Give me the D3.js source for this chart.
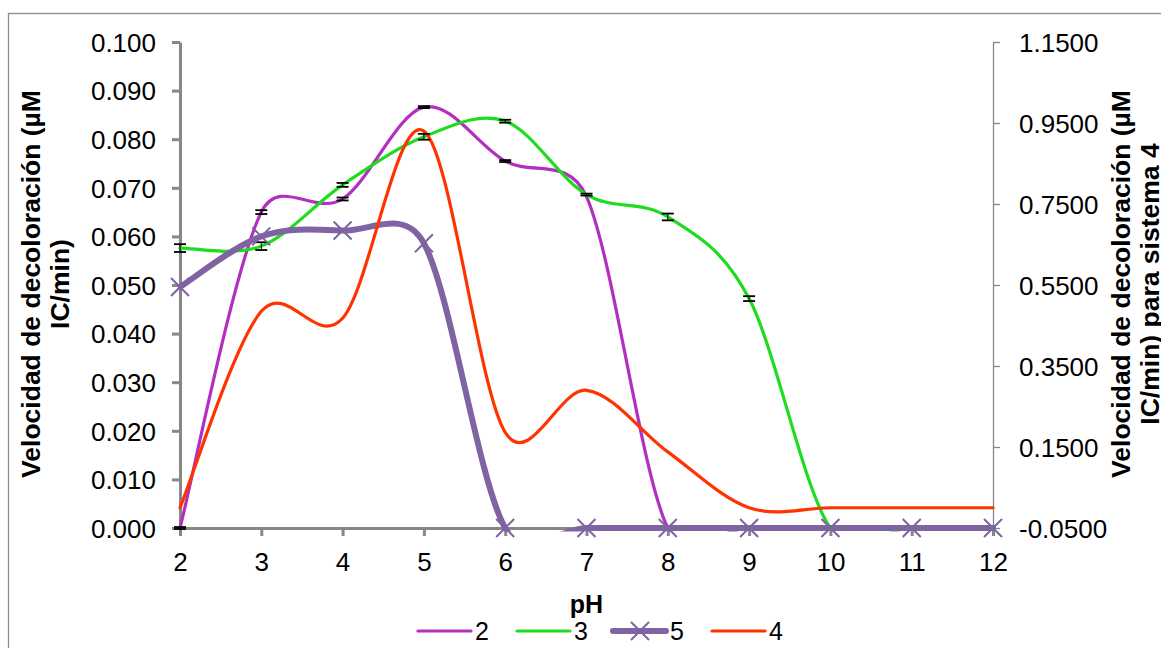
<!DOCTYPE html>
<html>
<head>
<meta charset="utf-8">
<script src="https://cdn.jsdelivr.net/npm/d3@7"></script>
<style>
  html, body { margin: 0; padding: 0; background: #ffffff; }
  svg { display: block; font-family: "Liberation Sans", Arial, sans-serif; }
</style>
</head>
<body>
<svg id="chart" width="1161" height="648"></svg>
<script>
// ---------- data ----------
const pH = [2, 3, 4, 5, 6, 7, 8, 9, 10, 11, 12];
const xTicks = [2, 3, 4, 5, 6, 7, 8, 9, 10, 11, 12];
const leftTicks = [0, 0.01, 0.02, 0.03, 0.04, 0.05, 0.06, 0.07, 0.08, 0.09, 0.10];
const rightTicks = [-0.05, 0.15, 0.35, 0.55, 0.75, 0.95, 1.15];

const serie2 = [0.0000, 0.0650, 0.0677, 0.0866, 0.0755, 0.0682, 0.0000, 0.0000, 0.0000, 0.0000, 0.0000];
const err2   = [0.0002, 0.0004, 0.0003, 0.0002, 0.0002, 0, 0, 0, 0, 0, 0];
const serie3 = [0.0576, 0.0580, 0.0706, 0.0805, 0.0837, 0.0686, 0.0640, 0.0472, 0.0000, 0.0000, 0.0000];
const err3   = [0.0008, 0.0008, 0.0004, 0.0006, 0.0003, 0.0002, 0.0007, 0.0005, 0, 0, 0];
const serie5 = [0.0496, 0.0600, 0.0612, 0.0586, 0.0000, 0.0000, 0.0000, 0.0000, 0.0000, 0.0000, 0.0000];
const serie4 = [0.000, 0.485, 0.468, 0.930, 0.186, 0.290, 0.138, 0.000, 0.000, 0.000, 0.000]; // secondary axis

const legendLabels = ["2", "3", "5", "4"];
const xTitle = "pH";
const leftTitle = ["Velocidad de decoloración (µM", "IC/min)"];
const rightTitle = ["Velocidad de decoloración (µM", "IC/min) para sistema 4"];

// ---------- layout ----------
const C = { m: "#B22FC0", g: "#1EDC1E", p: "#7F63A2", r: "#FF3300", axis: "#878787" };
const L = 180, R = 993, T = 42, B = 528;
const svg = d3.select("#chart");

const x = d3.scaleLinear().domain([2, 12]).range([L, R]);
const yL = d3.scaleLinear().domain([0, 0.1]).range([B, T]);
const yR = d3.scaleLinear().domain([-0.05, 1.15]).range([B, T]);

// outer border
svg.append("rect").attr("x", 8.5).attr("y", 13.5).attr("width", 1300).attr("height", 800)
  .attr("fill", "none").attr("stroke", "#8c8c8c").attr("stroke-width", 1.3);

const tickFont = 26;

// left axis
const gL = svg.append("g").attr("transform", `translate(${L},0)`)
  .call(d3.axisLeft(yL).tickValues(leftTicks).tickFormat(d3.format(".3f"))
    .tickSize(8).tickSizeOuter(0).tickPadding(16));
gL.select(".domain").attr("stroke", C.axis).attr("stroke-width", 3);
gL.selectAll(".tick line").attr("stroke", C.axis).attr("stroke-width", 3);
gL.selectAll(".tick text").attr("font-size", tickFont).attr("fill", "#000").attr("dy", "0.36em")
  .attr("font-family", "Liberation Sans, Arial, sans-serif");

// right axis
const gR = svg.append("g").attr("transform", `translate(${R},0)`)
  .call(d3.axisRight(yR).tickValues(rightTicks).tickFormat(d => d3.format(".4f")(d).replace("−", "-"))
    .tickSize(7).tickSizeOuter(0).tickPadding(19));
gR.select(".domain").attr("stroke", C.axis).attr("stroke-width", 1.3);
gR.selectAll(".tick line").attr("stroke", C.axis).attr("stroke-width", 1.3);
gR.selectAll(".tick text").attr("font-size", tickFont).attr("fill", "#000").attr("dy", "0.36em")
  .attr("font-family", "Liberation Sans, Arial, sans-serif");

// bottom axis
const gB = svg.append("g").attr("transform", `translate(0,${B})`)
  .call(d3.axisBottom(x).tickValues(xTicks).tickFormat(d3.format("d"))
    .tickSize(8).tickSizeOuter(0).tickPadding(17));
gB.select(".domain").attr("stroke", C.axis).attr("stroke-width", 3);
gB.selectAll(".tick line").attr("stroke", C.axis).attr("stroke-width", 3);
gB.selectAll(".tick text").attr("font-size", tickFont).attr("fill", "#000")
  .attr("font-family", "Liberation Sans, Arial, sans-serif");

// clip for plot area
svg.append("clipPath").attr("id", "plotclip").append("rect")
  .attr("x", L - 2).attr("y", T - 20).attr("width", R - L + 6).attr("height", B - T + 23.5);

const plot = svg.append("g").attr("clip-path", "url(#plotclip)");

// Excel-like smoothing: cubic Bezier, handles = (P[i+1]-P[i-1])/6, limited to half the segment
function smoothPath(pts) {
  const n = pts.length, f = 1 / 6, p = d3.path();
  p.moveTo(pts[0][0], pts[0][1]);
  for (let i = 0; i < n - 1; i++) {
    const p0 = pts[Math.max(i - 1, 0)], p1 = pts[i], p2 = pts[i + 1], p3 = pts[Math.min(i + 2, n - 1)];
    const seg = Math.hypot(p2[0] - p1[0], p2[1] - p1[1]);
    const t1 = [p2[0] - p0[0], p2[1] - p0[1]], l1 = Math.hypot(t1[0], t1[1]);
    const t2 = [p3[0] - p1[0], p3[1] - p1[1]], l2 = Math.hypot(t2[0], t2[1]);
    const s1 = (l1 * f > seg / 2) ? seg / (2 * l1) : f;
    const s2 = (l2 * f > seg / 2) ? seg / (2 * l2) : f;
    p.bezierCurveTo(p1[0] + t1[0] * s1, p1[1] + t1[1] * s1,
                    p2[0] - t2[0] * s2, p2[1] - t2[1] * s2, p2[0], p2[1]);
  }
  return p.toString();
}

function drawLine(vals, yScale, color, width) {
  const pts = vals.map((v, i) => [x(pH[i]), yScale(v)]);
  plot.append("path").attr("d", smoothPath(pts))
    .attr("fill", "none").attr("stroke", color).attr("stroke-width", width)
    .attr("stroke-linejoin", "round").attr("stroke-linecap", "round");
}
function drawErr(vals, errs) {
  const pts = vals.map((v, i) => ({ x: x(pH[i]), v, e: errs[i] })).filter(d => d.e > 0);
  const g = svg.append("g");
  pts.forEach(d => {
    const y1 = yL(d.v + d.e), y2 = yL(d.v - d.e);
    g.append("line").attr("x1", d.x).attr("x2", d.x).attr("y1", y1).attr("y2", y2)
      .attr("stroke", "#000").attr("stroke-width", 1);
    [y1, y2].forEach(yy => g.append("line").attr("x1", d.x - 6).attr("x2", d.x + 6)
      .attr("y1", yy).attr("y2", yy).attr("stroke", "#000").attr("stroke-width", 1.8));
  });
}
function cross(g, cx, cy) {
  const s = 9;
  g.append("path").attr("d", `M${cx - s},${cy - s}L${cx + s},${cy + s}M${cx - s},${cy + s}L${cx + s},${cy - s}`)
    .attr("stroke", C.p).attr("stroke-width", 2).attr("fill", "none");
}

drawLine(serie2, yL, C.m, 3.2);
drawErr(serie2, err2);
drawLine(serie3, yL, C.g, 3.2);
drawErr(serie3, err3);
drawLine(serie5, yL, C.p, 6);
const mk = svg.append("g");
serie5.forEach((v, i) => cross(mk, x(pH[i]), yL(v)));
drawLine(serie4, yR, C.r, 3.2);

// axis titles
svg.append("text").attr("x", (L + R) / 2).attr("y", 613).attr("text-anchor", "middle")
  .attr("font-size", 25).attr("font-weight", "bold").text(xTitle);

const lt = svg.append("text").attr("transform", "translate(40,284) rotate(-90)")
  .attr("text-anchor", "middle").attr("font-size", 26.5).attr("font-weight", "bold");
leftTitle.forEach((t, i) => lt.append("tspan").attr("x", 0).attr("y", i * 29).text(t));

const rt = svg.append("text").attr("transform", "translate(1130,284) rotate(-90)")
  .attr("text-anchor", "middle").attr("font-size", 26.5).attr("font-weight", "bold");
rightTitle.forEach((t, i) => rt.append("tspan").attr("x", 0).attr("y", i * 29).text(t));

// legend
const legColors = [C.m, C.g, C.p, C.r];
const legStart = [418, 517, 613, 712];
const lg = svg.append("g");
legendLabels.forEach((lab, i) => {
  const x0 = legStart[i], ly = 631;
  lg.append("line").attr("x1", x0).attr("x2", x0 + 53).attr("y1", ly).attr("y2", ly)
    .attr("stroke", legColors[i]).attr("stroke-width", i === 2 ? 6 : 3.2).attr("stroke-linecap", "round");
  if (i === 2) cross(lg, x0 + 27, ly);
  lg.append("text").attr("x", x0 + 57).attr("y", 640).attr("font-size", 25).text(lab);
});
</script>
</body>
</html>
